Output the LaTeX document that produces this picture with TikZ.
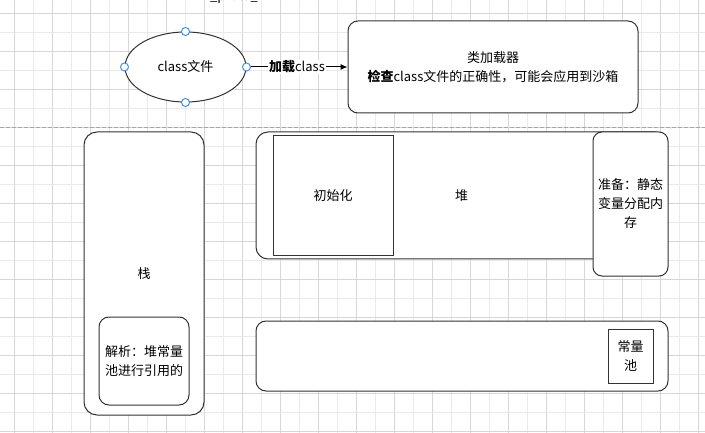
\documentclass[tikz,border=0pt]{standalone}
\usepackage{fontspec}
\setmainfont{Noto Sans CJK SC}
\usetikzlibrary{shapes.geometric,arrows.meta}
\definecolor{gridmajor}{RGB}{214,214,214}
\definecolor{gridminor}{RGB}{234,234,234}
\definecolor{edge}{RGB}{51,51,51}
\definecolor{handleblue}{RGB}{66,146,232}
\begin{document}
\begin{tikzpicture}[
                x=1pt, y=-1pt,
                every node/.style={font=\fontsize{13}{19}\selectfont, text=black},
                region/.style={draw=edge, line width=1pt, fill=white, rounded corners=11pt, align=center},
                sqbox/.style={draw=edge, line width=1pt, fill=white, align=center},
                oval/.style={ellipse, draw=edge, line width=1pt, fill=white},
                handle/.style={circle, draw=handleblue, fill=white, line width=1pt, inner sep=0pt, minimum size=8pt},
                link/.style={draw=black, line width=1pt, -{Latex[length=7pt,width=6pt]}}
            ]

            \useasboundingbox (0,0) rectangle (705,433);
            \clip (0,0) rectangle (705,433);
            \fill[white] (0,0) rectangle (705,433);

            \foreach \k in {0,...,36}{
                \pgfmathsetmacro{\gx}{14.7+19*\k}
                \pgfmathtruncatemacro{\odd}{mod(\k,2)}
                \ifnum\odd=0
                    \draw[gridmajor, line width=1pt] (\gx,0) -- (\gx,433);
                \else
                    \draw[gridminor, line width=1pt] (\gx,0) -- (\gx,433);
                \fi
            }
            \foreach \k in {0,...,22}{
                \pgfmathsetmacro{\gy}{13.3+19*\k}
                \pgfmathtruncatemacro{\odd}{mod(\k,2)}
                \ifnum\odd=0
                    \draw[gridmajor, line width=1pt] (0,\gy) -- (705,\gy);
                \else
                    \draw[gridminor, line width=1pt] (0,\gy) -- (705,\gy);
                \fi
            }
            \draw[gray!70, line width=1pt, dash pattern=on 4pt off 2pt] (0,127.3) -- (705,127.3);

            \node[anchor=base] (proto) at (234,0.5) {\_proto\_};

            \node[oval, minimum width=121pt, minimum height=70pt] (clsfile) at (185.5,67) {class文件};
            \node[region, rounded corners=10pt, minimum width=290pt, minimum height=92pt] (loader) at (493,67)
                {类加载器\\\textbf{检查}class文件的正确性，可能会应用到沙箱};
            \draw[link] (clsfile.east) -- (loader.west)
                node[midway, fill=white, inner sep=1pt] (loadlabel) {\textbf{加载}class};
            \node[handle] (hn) at (clsfile.north) {};
            \node[handle] (hs) at (clsfile.south) {};
            \node[handle] (hw) at (clsfile.west) {};
            \node[handle] (he) at (clsfile.east) {};

            \node[region, rounded corners=13pt, minimum width=120pt, minimum height=283pt] (stack) at (144,273.5) {栈};
            \node[region, rounded corners=10pt, minimum width=90pt, minimum height=88pt] (resolve) at (144,361)
                {解析：堆常量\\池进行引用的};

            \node[region, rounded corners=12pt, minimum width=411pt, minimum height=127pt] (heap) at (461.5,195.5) {堆};
            \node[sqbox, minimum width=120pt, minimum height=120pt] (init) at (333,196) {初始化};
            \node[region, rounded corners=9pt, minimum width=75pt, minimum height=144pt] (prepare) at (630.5,204)
                {准备：静态\\变量分配内\\存};

            \node[region, rounded corners=10pt, minimum width=412pt, minimum height=70pt] (methodarea) at (462,356) {};
            \node[sqbox, minimum width=45pt, minimum height=54pt] (constpool) at (630.5,356) {常量\\池};

        \end{tikzpicture}
\end{document}
